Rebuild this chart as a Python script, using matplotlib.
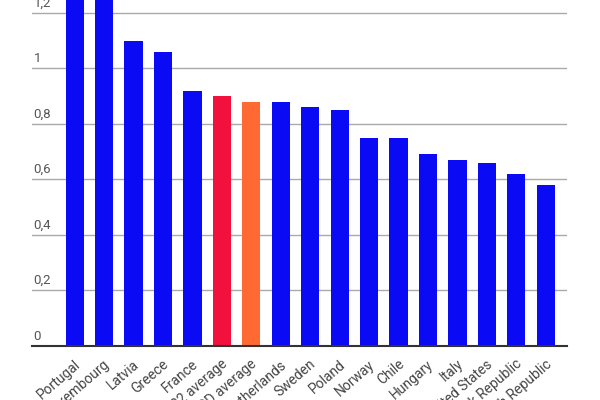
import matplotlib
matplotlib.use('Agg')
from matplotlib import pyplot as plt
from matplotlib import transforms

# values (first two run past the top edge)
countries = ['Portugal', 'Luxembourg', 'Latvia', 'Greece', 'France',
             'EU22 average', 'OECD average', 'Netherlands', 'Sweden',
             'Poland', 'Norway', 'Chile', 'Hungary', 'Italy',
             'United States', 'Slovak Republic', 'Czech Republic']
values = [1.35, 1.30, 1.10, 1.06, 0.92, 0.90, 0.88, 0.88, 0.86, 0.85,
          0.75, 0.75, 0.69, 0.67, 0.66, 0.62, 0.58]
yticks = [0, 0.2, 0.4, 0.6, 0.8, 1.0, 1.2]
ytick_labels = ['0', '0,2', '0,4', '0,6', '0,8', '1', '1,2']

blue = '#0a0af5'
colors = [blue] * len(countries)
colors[countries.index('EU22 average')] = '#f2103c'
colors[countries.index('OECD average')] = '#ff6a33'

plt.rcParams['font.family'] = ['Roboto', 'DejaVu Sans']

fig = plt.figure(figsize=(6, 4), dpi=100)
ax = fig.add_axes([32 / 600, 54 / 400, 535 / 600, 346 / 400])

x = list(range(len(countries)))
ax.bar(x, values, width=0.62, color=colors, zorder=2)

ax.set_xlim(-1.45, 16.72)
ax.set_ylim(0, 1.246)

# gridlines with labels sitting on top of them at the left
ax.set_yticks(yticks)
ax.set_yticklabels([])
ax.tick_params(axis='y', length=0)
ax.grid(axis='y', color='#aaaaaa', linewidth=1, zorder=0)
for v, lab in zip(yticks, ytick_labels):
    ax.text(0.003, v + 0.012, lab, transform=ax.get_yaxis_transform(),
            ha='left', va='bottom', fontsize=9.5, color='#555555')

ax.set_xticks(x)
ax.set_xticklabels(countries, rotation=41, ha='right',
                   rotation_mode='anchor', fontsize=10, color='#444444')
ax.tick_params(axis='x', length=0, pad=8)
shift = transforms.ScaledTranslation(-1 / 100, 0, fig.dpi_scale_trans)
for lab in ax.get_xticklabels():
    lab.set_transform(lab.get_transform() + shift)

for side in ['top', 'right', 'left']:
    ax.spines[side].set_visible(False)
ax.spines['bottom'].set_color('#333333')
ax.spines['bottom'].set_linewidth(1.5)
ax.spines['bottom'].set_zorder(3)

fig.savefig('out.png', dpi=100)
